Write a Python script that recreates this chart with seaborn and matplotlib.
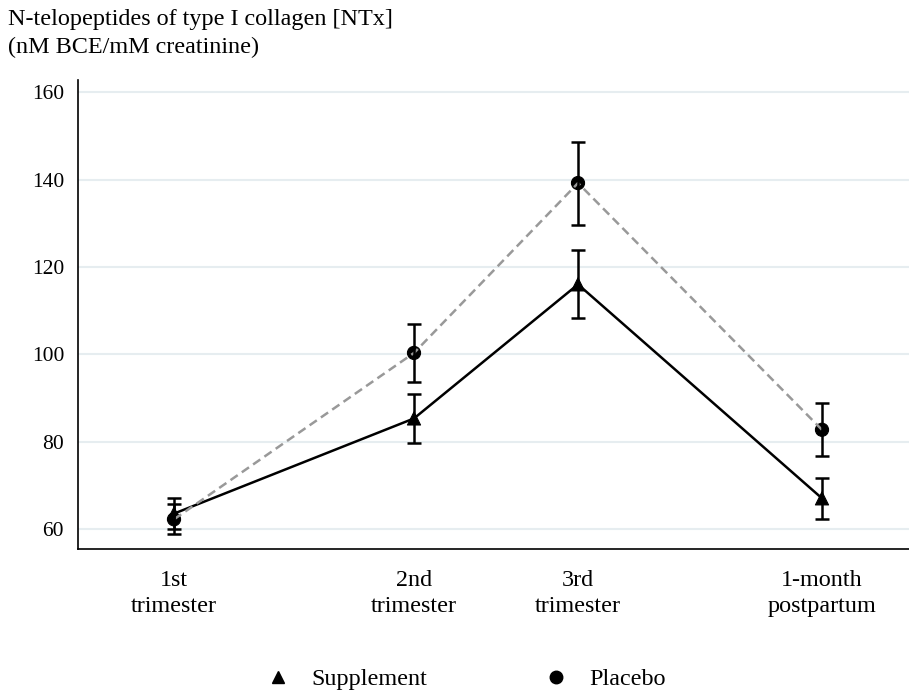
import numpy as np
import pandas as pd
import matplotlib
matplotlib.use("Agg")
import matplotlib.pyplot as plt
from matplotlib.lines import Line2D
import seaborn as sns

# Dữ liệu
periods = ["1st\ntrimester", "2nd\ntrimester", "3rd\ntrimester", "1-month\npostpartum"]
period_pos = [0.0, 2.40, 4.04, 6.48]
sup_mean = [63.5, 85.3, 116.0, 67.0]
sup_err = [3.5, 5.6, 7.8, 4.7]
pla_mean = [62.2, 100.3, 139.2, 82.7]
pla_err = [3.4, 6.6, 9.5, 6.1]
y_ticks = [60, 80, 100, 120, 140, 160]

df = pd.DataFrame({
    "pos": period_pos * 2,
    "value": sup_mean + pla_mean,
    "err": sup_err + pla_err,
    "group": ["Supplement"] * 4 + ["Placebo"] * 4,
})

sns.set_style("white")
plt.rcParams["font.family"] = ["Liberation Serif", "DejaVu Serif"]
plt.rcParams["font.size"] = 17
plt.rcParams["text.color"] = "black"
plt.rcParams["xtick.labelcolor"] = "black"
plt.rcParams["ytick.labelcolor"] = "black"

fig = plt.figure(figsize=(9.09, 6.92), dpi=100)
ax = fig.add_axes([78 / 909, 1 - 549 / 692, 1 - 78 / 909, (549 - 80) / 692])

for y in y_ticks:
    ax.axhline(y, color="#e6edf0", lw=1.5, zorder=0)

# markers first, lines on top (like the reference)
sns.scatterplot(data=df, x="pos", y="value", style="group",
                markers={"Supplement": "^", "Placebo": "o"},
                color="black", s=90, edgecolor="black", legend=False,
                ax=ax, zorder=2)
sns.lineplot(data=df, x="pos", y="value", hue="group", style="group",
             palette={"Supplement": "black", "Placebo": "#999999"},
             dashes={"Supplement": "", "Placebo": (3.5, 2)},
             lw=1.8, legend=False, ax=ax, zorder=3)

for g in ["Supplement", "Placebo"]:
    d = df[df["group"] == g]
    ax.errorbar(d["pos"], d["value"], yerr=d["err"], fmt="none",
                ecolor="black", elinewidth=1.8, capsize=5, capthick=1.8,
                zorder=4)

ax.set_xlim(-0.96, 7.35)
ax.set_ylim(55.4, 162.8)
ax.set_xticks(period_pos)
ax.set_xticklabels(periods, linespacing=1.3, fontsize=17.4)
ax.set_yticks(y_ticks)
ax.set_yticklabels([str(v) for v in y_ticks], fontsize=15.5)
ax.set_xlabel("")
ax.set_ylabel("")
ax.tick_params(axis="both", direction="out", length=6, width=1,
               color="#333333", pad=4)
ax.tick_params(axis="x", pad=9)

sns.despine(ax=ax)
for side in ["left", "bottom"]:
    ax.spines[side].set_color("black")
    ax.spines[side].set_linewidth(1.2)

fig.text(8 / 909, 1 - 20 / 692, "N-telopeptides of type I collagen [NTx]",
         ha="left", va="center", fontsize=17.4)
fig.text(8 / 909, 1 - 47 / 692, "(nM BCE/mM creatinine)",
         ha="left", va="center", fontsize=17.4)

handles = [
    Line2D([], [], marker="^", color="black", ls="none", markersize=9),
    Line2D([], [], marker="o", color="black", ls="none", markersize=9),
]
fig.legend(handles, ["Supplement", "Placebo"], loc="center",
           bbox_to_anchor=(463 / 909, 1 - 679 / 692), ncol=2, frameon=False,
           fontsize=17.4, handletextpad=0.63, columnspacing=4.6, handlelength=1.5)

fig.savefig("out.png", dpi=100)
